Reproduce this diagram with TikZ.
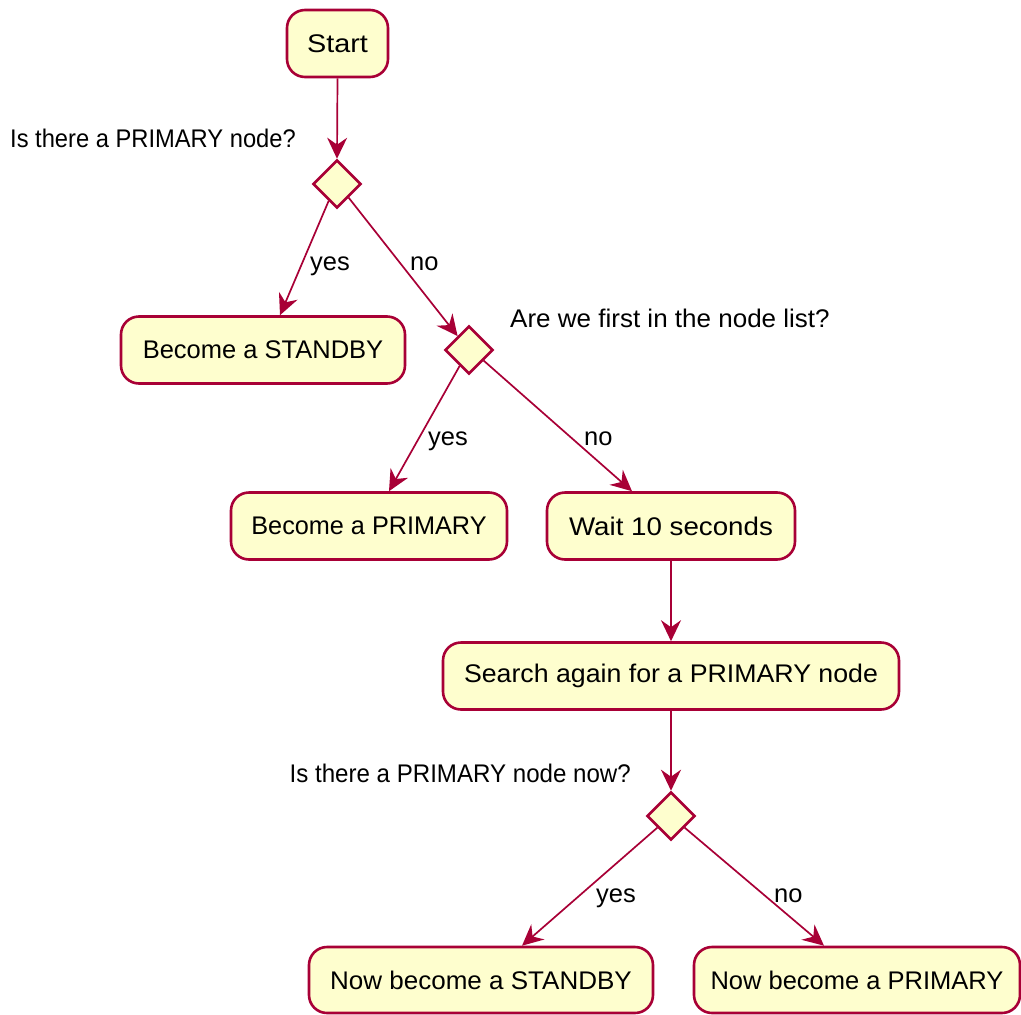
\documentclass[tikz,border=0pt]{standalone}
\usepackage{fontspec}
\usepackage{graphicx}
\setmainfont{Liberation Sans}
\usetikzlibrary{arrows.meta,shapes.geometric,calc}
\definecolor{umlfill}{HTML}{FEFECE}
\definecolor{umlline}{HTML}{A80036}
% horizontal stretch of a label
\newcommand{\wscale}[2]{\scalebox{#1}[1]{#2}}
\begin{document}
\begin{tikzpicture}[x=1pt,y=-1pt,
  every node/.style={font=\fontsize{25.5}{30}\selectfont, text=black},
  action/.style={draw=umlline, fill=umlfill, line width=2.6pt, rounded corners=18pt,
    minimum height=67pt, inner sep=0pt},
  choice/.style={draw=umlline, fill=umlfill, line width=2.6pt, diamond, aspect=1,
    minimum width=48pt, minimum height=48pt, inner sep=0pt},
  flow/.style={draw=umlline, line width=1.7pt, -{Stealth[length=21pt,width=20pt,inset=7pt]}},
  guard/.style={inner sep=0pt, anchor=base west},
  question/.style={inner sep=0pt}]
\useasboundingbox (0,0) rectangle (1021,1015);

% activities
\node[action, minimum width=101pt] (start) at (337.5,43.5) {\wscale{1.13}{Start}};
\node[choice] (d1) at (337,184) {};
\node[action, minimum width=284pt] (sb) at (263,350) {Become a STANDBY};
\node[choice] (d2) at (469,350) {};
\node[action, minimum width=276pt] (bp) at (369,526) {\wscale{0.99}{Become a PRIMARY}};
\node[action, minimum width=248pt] (wait) at (671,526) {\wscale{1.087}{Wait 10 seconds}};
\node[action, minimum width=456pt] (search) at (671,676) {\wscale{1.048}{Search again for a PRIMARY node}};
\node[choice] (d3) at (671,816) {};
\node[action, minimum width=344pt, minimum height=66pt] (nsb) at (481,980) {\wscale{1.02}{Now become a STANDBY}};
\node[action, minimum width=326pt, minimum height=66pt] (npr) at (857,980) {Now become a PRIMARY};

% decision questions
\node[question, anchor=east] (q1) at (296,138) {\wscale{0.93}{Is there a PRIMARY node?}};
\node[question, anchor=west] (q2) at (510,318) {\wscale{1.02}{Are we first in the node list?}};
\node[question, anchor=east] (q3) at (631,773) {\wscale{0.945}{Is there a PRIMARY node now?}};

% flows
\draw[flow] (start.south) -- (d1.north);
\draw[flow] ($(d1.south)!0.33!(d1.west)$) -- ([xshift=17pt]sb.north);
\draw[flow] ($(d1.south)!0.46!(d1.east)$) -- ($(d2.north)!0.45!(d2.west)$);
\draw[flow] ($(d2.south)!0.37!(d2.west)$) -- ([xshift=20pt]bp.north);
\draw[flow] ($(d2.south)!0.58!(d2.east)$) -- ([xshift=-39pt]wait.north);
\draw[flow] (wait.south) -- (search.north);
\draw[flow] (search.south) -- (d3.north);
\draw[flow] ($(d3.south)!0.54!(d3.west)$) -- ([xshift=41pt]nsb.north);
\draw[flow] ($(d3.south)!0.54!(d3.east)$) -- ([xshift=-33pt]npr.north);

% guards
\node[guard] (y1) at (310,270) {yes};
\node[guard] (n1) at (410,270) {no};
\node[guard] (y2) at (428,445) {yes};
\node[guard] (n2) at (584,445) {no};
\node[guard] (y3) at (596,902) {yes};
\node[guard] (n3) at (774,902) {no};
\end{tikzpicture}
\end{document}
